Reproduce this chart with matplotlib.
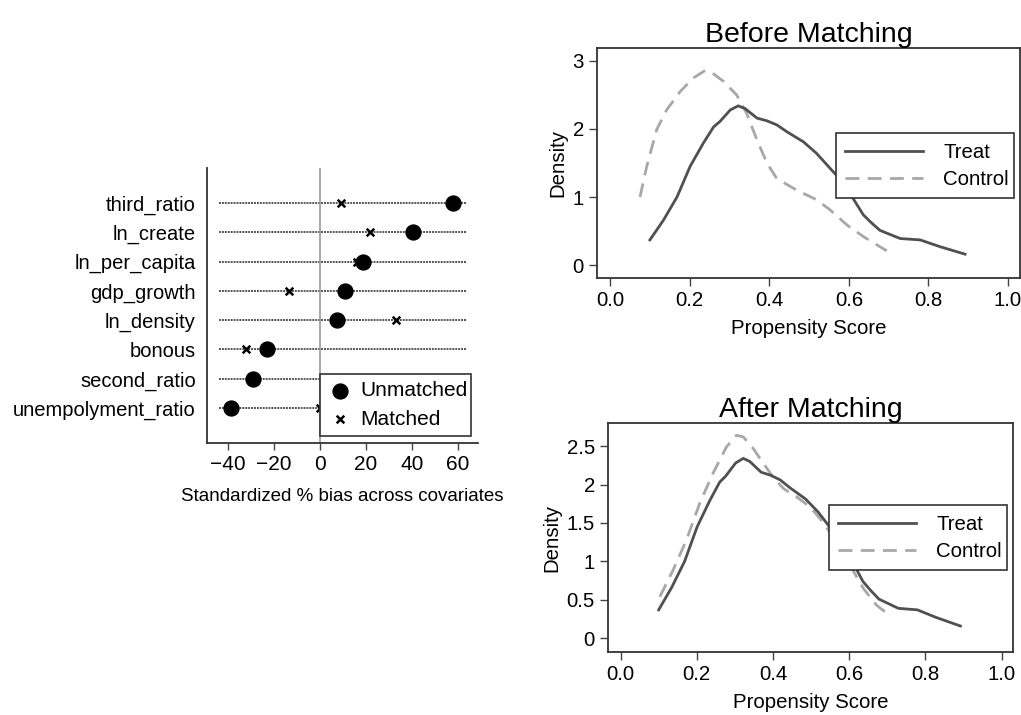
import matplotlib
matplotlib.use("Agg")
import matplotlib.pyplot as plt
import numpy as np

plt.rcParams['font.family'] = ['Liberation Sans', 'DejaVu Sans']

# ---------------- data ----------------
covariates = ["third_ratio", "ln_create", "ln_per_capita", "gdp_growth",
              "ln_density", "bonous", "second_ratio", "unempolyment_ratio"]
bias_unmatched = [57.8, 40.3, 18.8, 10.9, 7.5, -23.0, -29.0, -38.5]
bias_matched = [9.0, 21.7, 16.0, -13.4, 33.3, -32.0, 3.0, 0.2]
bias_ticks = [-40, -20, 0, 20, 40, 60]

treat_x = [0.100, 0.134, 0.168, 0.201, 0.234, 0.260, 0.276, 0.302, 0.322, 0.339,
           0.369, 0.394, 0.419, 0.444, 0.486, 0.519, 0.553, 0.580, 0.603, 0.636,
           0.655, 0.678, 0.729, 0.779, 0.829, 0.892]
treat_y = [0.37, 0.66, 1.00, 1.45, 1.79, 2.03, 2.11, 2.28, 2.34, 2.30,
           2.16, 2.12, 2.06, 1.96, 1.81, 1.64, 1.42, 1.25, 1.05, 0.74,
           0.63, 0.51, 0.39, 0.37, 0.27, 0.16]

control_before_x = [0.075, 0.092, 0.117, 0.142, 0.176, 0.209, 0.239, 0.255, 0.285,
                    0.318, 0.343, 0.369, 0.394, 0.419, 0.469, 0.519, 0.553, 0.595,
                    0.636, 0.695]
control_before_y = [1.00, 1.45, 1.99, 2.28, 2.55, 2.75, 2.86, 2.83, 2.70,
                    2.50, 2.23, 1.84, 1.50, 1.27, 1.10, 0.96, 0.81, 0.59,
                    0.42, 0.21]

control_after_x = [0.103, 0.138, 0.173, 0.208, 0.243, 0.278, 0.304, 0.322, 0.348,
                   0.374, 0.400, 0.427, 0.462, 0.497, 0.523, 0.545, 0.575, 0.602,
                   0.637, 0.672, 0.698]
control_after_y = [0.54, 0.89, 1.28, 1.76, 2.15, 2.49, 2.64, 2.62, 2.47,
                   2.28, 2.10, 1.95, 1.84, 1.71, 1.56, 1.41, 1.18, 0.95,
                   0.65, 0.43, 0.33]

ps_ticks = [0.0, 0.2, 0.4, 0.6, 0.8, 1.0]
before_yticks = [0, 1, 2, 3]
after_yticks = [0, 0.5, 1, 1.5, 2, 2.5]
after_yticklabels = ["0", "0.5", "1", "1.5", "2", "2.5"]

# ---------------- figure ----------------
W, H = 1021, 715
fig = plt.figure(figsize=(W / 100, H / 100), dpi=100)

def fr(x0, y0, x1, y1):
    return [x0 / W, 1 - y1 / H, (x1 - x0) / W, (y1 - y0) / H]

FS = 14.7
TREAT_C = "#505050"
CTRL_C = "#a8a8a8"

# ---- left: bias plot ----
ax1 = fig.add_axes(fr(207, 168, 478, 443))
n = len(covariates)
ypos = np.arange(n, 0, -1)
for y in ypos:
    ax1.plot([-44, 64], [y, y], color="#555555", lw=1.4, ls=(0, (1, 0.5)), zorder=1)
ax1.axvline(0, color="#999999", lw=1.2, zorder=1)
ax1.scatter(bias_unmatched, ypos, s=115, color="black", marker="o", zorder=3, label="Unmatched")
ax1.scatter(bias_matched, ypos, s=30, color="black", marker="x", linewidths=1.8, zorder=3, label="Matched")
ax1.set_xlim(-49, 68.7)
ax1.set_ylim(-0.19, 9.19)
ax1.set_yticks(ypos)
ax1.set_yticklabels(covariates, fontsize=14.5)
ax1.tick_params(axis="y", length=0, pad=8)
ax1.set_xticks(bias_ticks)
ax1.set_xticklabels(["\u221240", "\u221220", "0", "20", "40", "60"], fontsize=15)
ax1.tick_params(axis="x", length=5, width=1, direction="out", color="#444444")
for s in ["top", "right"]:
    ax1.spines[s].set_visible(False)
for s in ["left", "bottom"]:
    ax1.spines[s].set_linewidth(1.3)
    ax1.spines[s].set_color("#333333")
ax1.set_xlabel("Standardized % bias across covariates", fontsize=13.5, labelpad=10)
leg1 = ax1.legend(loc="lower left", bbox_to_anchor=(0.417, 0.025, 0.557, 0.251),
                  mode="expand", fontsize=15, frameon=True, fancybox=False,
                  borderaxespad=0, handletextpad=0.4, borderpad=0.35,
                  labelspacing=0.45, handlelength=1.2)
leg1.get_frame().set_edgecolor("#333333")
leg1.get_frame().set_linewidth(1.2)
leg1.get_frame().set_alpha(1)

# ---- density plots ----
def density_ax(rect, ctrl_x, ctrl_y, title, yticks, ylabels, ylim, legbox):
    ax = fig.add_axes(rect)
    ax.plot(treat_x, treat_y, color=TREAT_C, lw=2, label="Treat", zorder=3,
            solid_joinstyle="round")
    ax.plot(ctrl_x, ctrl_y, color=CTRL_C, lw=2, ls=(0, (5, 3)), label="Control", zorder=2)
    ax.set_xlim(-0.033, 1.03)
    ax.set_ylim(*ylim)
    ax.set_xticks(ps_ticks)
    ax.set_xticklabels(["%.1f" % v for v in ps_ticks], fontsize=FS)
    ax.set_yticks(yticks)
    ax.set_yticklabels(ylabels, fontsize=FS)
    ax.tick_params(direction="out", length=6, width=1, color="#444444")
    for s in ax.spines.values():
        s.set_linewidth(1.3)
        s.set_color("#333333")
    ax.set_xlabel("Propensity Score", fontsize=FS, labelpad=6)
    ax.set_ylabel("Density", fontsize=FS, labelpad=4)
    ax.set_title(title, fontsize=20.5, pad=4)
    leg = ax.legend(loc="lower left", bbox_to_anchor=legbox, mode="expand",
                    fontsize=FS, frameon=True, fancybox=False, borderaxespad=0,
                    handlelength=3.8, handletextpad=1.0, borderpad=0.45,
                    labelspacing=0.4)
    leg.get_frame().set_edgecolor("#333333")
    leg.get_frame().set_linewidth(1.2)
    leg.get_frame().set_alpha(1)
    return ax

def legbox_from_px(ax_px, box_px):
    x0, y0, x1, y1 = ax_px
    bx0, by0, bx1, by1 = box_px
    return ((bx0 - x0) / (x1 - x0), (y1 - by1) / (y1 - y0),
            (bx1 - bx0) / (x1 - x0), (by1 - by0) / (y1 - y0))

top_px = (597, 48, 1020, 278)
density_ax(fr(*top_px), control_before_x, control_before_y, "Before Matching",
           before_yticks, [str(v) for v in before_yticks], (-0.19, 3.19),
           legbox_from_px(top_px, (836, 128, 1014, 198)))

bot_px = (608, 423, 1013, 652)
density_ax(fr(*bot_px), control_after_x, control_after_y, "After Matching",
           after_yticks, after_yticklabels, (-0.178, 2.80),
           legbox_from_px(bot_px, (829, 502, 1007, 570)))

fig.savefig("out.png", dpi=100, facecolor="white")
